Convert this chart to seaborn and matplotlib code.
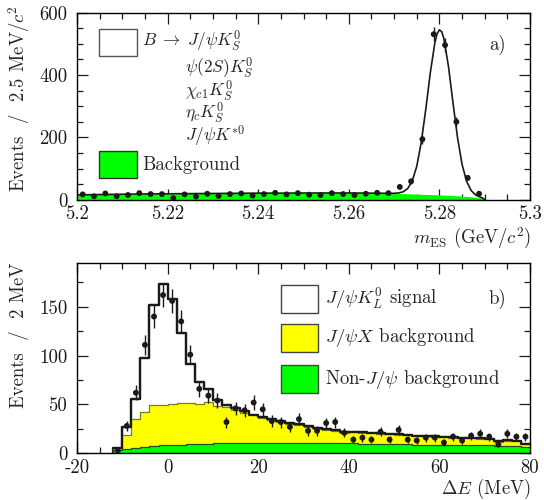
#import libraries
import numpy as np
import pandas as pd
import matplotlib
matplotlib.use('Agg')
import matplotlib.pyplot as plt
import seaborn as sns
from matplotlib.ticker import MultipleLocator, FuncFormatter
from matplotlib.patches import Rectangle

#----- panel a) : m_ES -----
#data points, 2.5 MeV bins starting at 5.2
mes_centers = np.round(5.20125 + 0.0025 * np.arange(36), 5)
mes_counts = [17, 11, 20, 11, 15, 21, 18, 18, 5, 17, 10, 19, 12, 18, 20, 13, 18, 22,
              17, 21, 16, 15, 21, 18, 15, 19, 22, 21, 41, 59, 194, 531, 496, 250, 70, 19]

#fit curve: background shape and total
mes_curve_x = [5.200, 5.205, 5.210, 5.215, 5.220, 5.225, 5.230, 5.235, 5.240, 5.245,
               5.250, 5.255, 5.260, 5.265, 5.266, 5.267, 5.268, 5.269, 5.270, 5.271,
               5.272, 5.273, 5.274, 5.275, 5.276, 5.277, 5.278, 5.279, 5.2795, 5.280,
               5.2805, 5.281, 5.282, 5.283, 5.284, 5.285, 5.286, 5.287, 5.288, 5.289,
               5.2895, 5.290]
mes_bkg = [15.5, 16.5, 17.5, 18.5, 19, 19.5, 20, 20.5, 21, 21, 21.5, 21.5, 21.5, 21, 21,
           20.8, 20.6, 20.4, 20, 19.8, 19.5, 19, 18.6, 18, 17.5, 17, 16.5, 16, 15.8, 15.5,
           15.2, 14.8, 14, 13.3, 12.5, 11.5, 10.5, 9.3, 8, 6, 4.3, 0]
mes_fit = [15.5, 16.5, 17.5, 18.5, 19, 19.5, 20, 20.5, 21, 21, 21.5, 21.5, 21.5, 21, 21,
           20.8, 20.6, 20.5, 20.5, 21.6, 25.4, 35.7, 59.9, 107, 184.8, 291, 408, 503.8,
           532.8, 545, 539.3, 516.2, 427.8, 311, 199.2, 113.6, 59.2, 29.5, 15.3, 8.3, 5.5, 0.6]

#----- panel b) : Delta E -----
de_edges = [float(e) for e in range(-12, 81, 2)]
de_centers = [e + 1 for e in de_edges[:-1]]
de_counts = [3, 28, 62, 111, 140, 162, 156, 135, 101, 66, 59, 54, 32, 46, 44, 52,
             45, 33, 32, 27, 35, 23, 23, 31, 32, 21, 14, 16, 14, 22, 14, 24, 14, 13,
             16, 16, 11, 17, 13, 18, 20, 17, 9, 20, 17, 17]
#stacked histogram tops: non-J/psi, + J/psi X, + signal
stack_nonjpsi = [3, 4, 5, 6, 7, 8, 8.5, 9, 9.5, 10, 10, 10.5, 10.5, 11, 11, 11, 11, 11,
                 11, 11, 11, 11, 11, 10.5, 10.5, 10.5, 10.5, 10, 10, 10, 9.5, 9.5, 9.5,
                 9, 9, 9, 8.5, 8.5, 8.5, 8, 8, 8, 7.5, 7.5, 7, 6.5]
stack_jpsix = [5, 19, 35, 42, 49, 49, 50, 52, 52, 50, 53, 48, 47, 44, 41.5, 39, 36.5, 34,
               32.5, 30.5, 29, 27, 25, 24, 23, 21, 21.5, 21, 20.5, 20, 19.5, 19, 18.5,
               17.5, 17.5, 17, 16.5, 16, 15.5, 15.5, 15, 14.5, 12, 13, 12.5, 9.5]
stack_total = [5, 27, 56, 98, 152, 173, 158, 123, 91, 73, 66, 55, 49, 46, 43, 39.5, 37,
               35, 33, 31, 30, 27.5, 26, 25, 24, 22, 22, 21.5, 21, 20.5, 20, 19.5, 19, 18,
               18, 17.5, 17, 16.5, 16, 16, 15.5, 15, 12.5, 13.5, 13, 10]

df_b = pd.DataFrame({'de': de_centers, 'nonjpsi': stack_nonjpsi,
                     'jpsix': stack_jpsix, 'total': stack_total})

#style
sns.set_theme(style='white')
plt.rcParams['font.family'] = 'cmr10'
plt.rcParams['mathtext.fontset'] = 'cm'
plt.rcParams['axes.formatter.use_mathtext'] = True
plt.rcParams['axes.unicode_minus'] = False
plt.rcParams['axes.edgecolor'] = 'black'
plt.rcParams['axes.linewidth'] = 1.0
FS = 13.5
FS_LEG = 12.5
GREEN = '#00ff00'
YELLOW = '#ffff00'

fig = plt.figure(figsize=(5.44, 5.0), dpi=100)
ax_a = fig.add_axes([77/544, 1-199.7/500, 453/544, 187/500])
ax_b = fig.add_axes([77/544, 1-453.3/500, 453/544, 190/500])

#panel a
ax_a.fill_between(mes_curve_x, 0, mes_bkg, color=GREEN, lw=0, zorder=1)
sns.lineplot(x=mes_curve_x, y=mes_fit, color='k', lw=1.2, estimator=None, sort=False,
             ax=ax_a, zorder=3)
ax_a.errorbar(mes_centers, mes_counts, yerr=np.sqrt(mes_counts), fmt='none',
              ecolor='k', elinewidth=1.0, capsize=0, zorder=4)
sns.scatterplot(x=mes_centers, y=mes_counts, color='k', s=18, edgecolor='none',
                ax=ax_a, zorder=5)
ax_a.set_xlim(5.2, 5.3)
ax_a.set_ylim(0, 600)
ax_a.xaxis.set_major_locator(MultipleLocator(0.02))
ax_a.xaxis.set_minor_locator(MultipleLocator(0.005))
ax_a.yaxis.set_major_locator(MultipleLocator(200))
ax_a.yaxis.set_minor_locator(MultipleLocator(50))
ax_a.xaxis.set_major_formatter(FuncFormatter(lambda v, p: ('%.2f' % v).rstrip('0')))
ax_a.yaxis.set_major_formatter(FuncFormatter(lambda v, p: '%.0f' % v))

#panel b : stacked step histograms
sns.histplot(data=df_b, x='de', weights='total', bins=de_edges, element='step', fill=True,
             facecolor='white', edgecolor='k', linewidth=1.6, alpha=1, ax=ax_b, zorder=1)
sns.histplot(data=df_b, x='de', weights='jpsix', bins=de_edges, element='step', fill=True,
             facecolor=YELLOW, edgecolor='#7a7a30', linewidth=0.9, alpha=1, ax=ax_b, zorder=2)
sns.histplot(data=df_b, x='de', weights='nonjpsi', bins=de_edges, element='step', fill=True,
             facecolor=GREEN, edgecolor='#2a4a2a', linewidth=0.9, alpha=1, ax=ax_b, zorder=3)
sns.histplot(data=df_b, x='de', weights='total', bins=de_edges, element='step', fill=False,
             color='k', linewidth=1.6, ax=ax_b, zorder=4)
ax_b.errorbar(de_centers, de_counts, yerr=np.sqrt(de_counts), fmt='none',
              ecolor='k', elinewidth=1.0, capsize=0, zorder=5)
sns.scatterplot(x=de_centers, y=de_counts, color='k', s=18, edgecolor='none',
                ax=ax_b, zorder=6)
ax_b.set_xlim(-20, 80)
ax_b.set_ylim(0, 194.5)
ax_b.xaxis.set_major_locator(MultipleLocator(20))
ax_b.xaxis.set_minor_locator(MultipleLocator(5))
ax_b.yaxis.set_major_locator(MultipleLocator(50))
ax_b.yaxis.set_minor_locator(MultipleLocator(25))
ax_b.xaxis.set_major_formatter(FuncFormatter(lambda v, p: '%.0f' % v))
ax_b.yaxis.set_major_formatter(FuncFormatter(lambda v, p: '%.0f' % v))

for ax in [ax_a, ax_b]:
    ax.set_xlabel('')
    ax.set_ylabel('')
    ax.tick_params(which='both', direction='in', top=True, right=True, bottom=True,
                   left=True, colors='k', labelsize=FS)
    ax.tick_params(which='major', length=8, width=0.9)
    ax.tick_params(which='minor', length=4, width=0.9)
    ax.tick_params(axis='x', which='major', pad=4)
    ax.tick_params(axis='y', which='major', pad=7)
    for s in ax.spines.values():
        s.set_visible(True)
        s.set_zorder(10)

#axis titles
fig.text(19/544, 1-5/500, r'Events  /  2.5 MeV/$c^2$', rotation=90, ha='center', va='top', fontsize=FS)
fig.text(19/544, 1-263/500, r'Events  /  2 MeV', rotation=90, ha='center', va='top', fontsize=FS)
fig.text(531/544, 1-238/500, r'$m_{\rm ES}$ (GeV/$c^2$)', ha='right', va='center', fontsize=FS)
fig.text(531/544, 1-489/500, r'$\Delta E$ (MeV)', ha='right', va='center', fontsize=FS)

#panel a legend
ax_a.add_patch(Rectangle((0.0486, 0.7684), 0.0839, 0.1444, transform=ax_a.transAxes,
                         facecolor='white', edgecolor='#555555', lw=1, zorder=7))
ax_a.add_patch(Rectangle((0.0486, 0.116), 0.0839, 0.1444, transform=ax_a.transAxes,
                         facecolor=GREEN, edgecolor='#333333', lw=1, zorder=7))
ax_a.text(0.1435, 0.845, r'$B\;\rightarrow\;J/\psi K^0_S$', transform=ax_a.transAxes, va='center', fontsize=FS_LEG)
for yy, lab in zip([0.705, 0.585, 0.462, 0.337],
                   [r'$\psi(2S)K^0_S$', r'$\chi_{c1}K^0_S$', r'$\eta_c K^0_S$', r'$J/\psi K^{*0}$']):
    ax_a.text(0.2384, yy, lab, transform=ax_a.transAxes, va='center', fontsize=FS_LEG)
ax_a.text(0.1435, 0.185, 'Background', transform=ax_a.transAxes, va='center', fontsize=FS)
ax_a.text(0.929, 0.827, 'a)', transform=ax_a.transAxes, va='center', ha='center', fontsize=FS)

#panel b legend
for (y0, fc, lab, yt) in [(0.7384, 'white', r'$J/\psi K^0_L$ signal', 0.817),
                          (0.5326, YELLOW, r'$J/\psi X$ background', 0.607),
                          (0.3195, GREEN, r'Non-$J/\psi$ background', 0.391)]:
    ax_b.add_patch(Rectangle((0.4503, y0), 0.0817, 0.146, transform=ax_b.transAxes,
                             facecolor=fc, edgecolor='#444444', lw=1, zorder=7))
    ax_b.text(0.5475, yt, lab, transform=ax_b.transAxes, va='center', fontsize=FS)
ax_b.text(0.929, 0.814, 'b)', transform=ax_b.transAxes, va='center', ha='center', fontsize=FS)

fig.savefig('out.png', dpi=100)
